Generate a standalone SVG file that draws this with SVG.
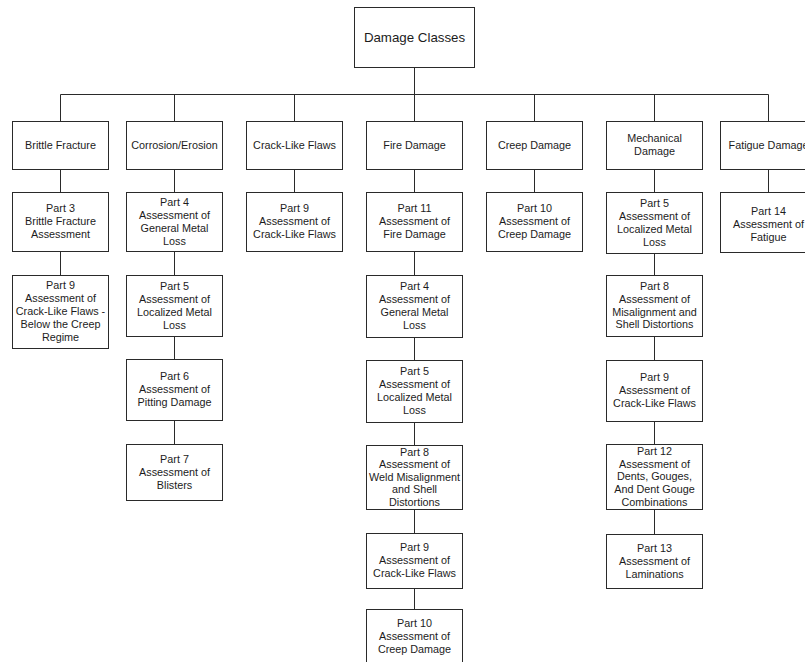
<svg xmlns="http://www.w3.org/2000/svg" width="805" height="662" viewBox="0 0 805 662">
<style>
rect{fill:#fff;stroke:#2a2a2a;stroke-width:1}
text{font-family:"Liberation Sans",Arial,sans-serif;font-size:10.8px;fill:#1c1c1c;text-anchor:middle}
.root{font-size:13.3px}
.conn{fill:none;stroke:#2a2a2a;stroke-width:1}
</style>
<rect x="0" y="0" width="805" height="662" style="fill:#fff;stroke:none"/>
<g id="connectors" class="conn">
<path d="M414.5 67 V94.5 M60.5 94.5 H768.5 M60.5 94.5 V121 M174.5 94.5 V121 M294.5 94.5 V121 M414.5 94.5 V121 M534.5 94.5 V121 M654.5 94.5 V121 M768.5 94.5 V121"/>
<path d="M60.5 169 V192 M60.5 251 V275"/>
<path d="M174.5 169 V192 M174.5 251 V275 M174.5 336 V359 M174.5 420 V444"/>
<path d="M294.5 169 V192"/>
<path d="M414.5 169 V192 M414.5 251 V275 M414.5 337 V360 M414.5 422 V445 M414.5 509 V533 M414.5 588 V609"/>
<path d="M534.5 169 V192"/>
<path d="M654.5 169 V192 M654.5 253 V275 M654.5 336 V360 M654.5 421 V444 M654.5 509 V534"/>
<path d="M768.5 169 V192"/>
</g>
<g id="root"><rect x="354.5" y="7.5" width="120" height="60"/><text class="root" x="414.5" y="41.6">Damage Classes</text></g>

<g id="cat-brittle"><rect x="12.5" y="121.5" width="96" height="48"/><text x="60.5" y="148.8">Brittle Fracture</text></g>
<g id="cat-corrosion"><rect x="126.5" y="121.5" width="96" height="48"/><text x="174.5" y="148.8">Corrosion/Erosion</text></g>
<g id="cat-crack"><rect x="246.5" y="121.5" width="96" height="48"/><text x="294.5" y="148.8">Crack-Like Flaws</text></g>
<g id="cat-fire"><rect x="366.5" y="121.5" width="96" height="48"/><text x="414.5" y="148.8">Fire Damage</text></g>
<g id="cat-creep"><rect x="486.5" y="121.5" width="96" height="48"/><text x="534.5" y="148.8">Creep Damage</text></g>
<g id="cat-mech"><rect x="606.5" y="121.5" width="96" height="48"/><text x="654.5" y="142.3">Mechanical</text><text x="654.5" y="155.3">Damage</text></g>
<g id="cat-fatigue"><rect x="720.5" y="121.5" width="96" height="48"/><text x="768.5" y="148.8">Fatigue Damage</text></g>

<g id="brittle-p3"><rect x="12.5" y="192.5" width="96" height="59"/><text x="60.5" y="212.3">Part 3</text><text x="60.5" y="225.3">Brittle Fracture</text><text x="60.5" y="238.3">Assessment</text></g>
<g id="brittle-p9"><rect x="12.5" y="275.5" width="96" height="73"/><text x="60.5" y="289.3">Part 9</text><text x="60.5" y="302.3">Assessment of</text><text x="60.5" y="315.3">Crack-Like Flaws -</text><text x="60.5" y="328.3">Below the Creep</text><text x="60.5" y="341.3">Regime</text></g>

<g id="corr-p4"><rect x="126.5" y="192.5" width="96" height="59"/><text x="174.5" y="205.8">Part 4</text><text x="174.5" y="218.8">Assessment of</text><text x="174.5" y="231.8">General Metal</text><text x="174.5" y="244.8">Loss</text></g>
<g id="corr-p5"><rect x="126.5" y="275.5" width="96" height="61"/><text x="174.5" y="289.8">Part 5</text><text x="174.5" y="302.8">Assessment of</text><text x="174.5" y="315.8">Localized Metal</text><text x="174.5" y="328.8">Loss</text></g>
<g id="corr-p6"><rect x="126.5" y="359.5" width="96" height="61"/><text x="174.5" y="380.3">Part 6</text><text x="174.5" y="393.3">Assessment of</text><text x="174.5" y="406.3">Pitting Damage</text></g>
<g id="corr-p7"><rect x="126.5" y="444.5" width="96" height="56"/><text x="174.5" y="462.8">Part 7</text><text x="174.5" y="475.8">Assessment of</text><text x="174.5" y="488.8">Blisters</text></g>

<g id="crack-p9"><rect x="246.5" y="192.5" width="96" height="59"/><text x="294.5" y="212.3">Part 9</text><text x="294.5" y="225.3">Assessment of</text><text x="294.5" y="238.3">Crack-Like Flaws</text></g>

<g id="fire-p11"><rect x="366.5" y="192.5" width="96" height="59"/><text x="414.5" y="212.3">Part 11</text><text x="414.5" y="225.3">Assessment of</text><text x="414.5" y="238.3">Fire Damage</text></g>
<g id="fire-p4"><rect x="366.5" y="275.5" width="96" height="62"/><text x="414.5" y="290.3">Part 4</text><text x="414.5" y="303.3">Assessment of</text><text x="414.5" y="316.3">General Metal</text><text x="414.5" y="329.3">Loss</text></g>
<g id="fire-p5"><rect x="366.5" y="360.5" width="96" height="62"/><text x="414.5" y="375.3">Part 5</text><text x="414.5" y="388.3">Assessment of</text><text x="414.5" y="401.3">Localized Metal</text><text x="414.5" y="414.3">Loss</text></g>
<g id="fire-p8"><rect x="366.5" y="445.5" width="96" height="64"/><text x="414.5" y="455.8">Part 8</text><text x="414.5" y="467.8">Assessment of</text><text x="414.5" y="480.8">Weld Misalignment</text><text x="414.5" y="492.8">and Shell</text><text x="414.5" y="505.8">Distortions</text></g>
<g id="fire-p9"><rect x="366.5" y="533.5" width="96" height="55"/><text x="414.5" y="551.3">Part 9</text><text x="414.5" y="564.3">Assessment of</text><text x="414.5" y="577.3">Crack-Like Flaws</text></g>
<g id="fire-p10"><rect x="366.5" y="609.5" width="96" height="64"/><text x="414.5" y="626.8">Part 10</text><text x="414.5" y="639.8">Assessment of</text><text x="414.5" y="652.8">Creep Damage</text></g>

<g id="creep-p10"><rect x="486.5" y="192.5" width="96" height="59"/><text x="534.5" y="212.3">Part 10</text><text x="534.5" y="225.3">Assessment of</text><text x="534.5" y="238.3">Creep Damage</text></g>

<g id="mech-p5"><rect x="606.5" y="192.5" width="96" height="61"/><text x="654.5" y="206.8">Part 5</text><text x="654.5" y="219.8">Assessment of</text><text x="654.5" y="232.8">Localized Metal</text><text x="654.5" y="245.8">Loss</text></g>
<g id="mech-p8"><rect x="606.5" y="275.5" width="96" height="61"/><text x="654.5" y="289.8">Part 8</text><text x="654.5" y="302.8">Assessment of</text><text x="654.5" y="315.6">Misalignment and</text><text x="654.5" y="328">Shell Distortions</text></g>
<g id="mech-p9"><rect x="606.5" y="360.5" width="96" height="61"/><text x="654.5" y="381.3">Part 9</text><text x="654.5" y="394.3">Assessment of</text><text x="654.5" y="407.3">Crack-Like Flaws</text></g>
<g id="mech-p12"><rect x="606.5" y="444.5" width="96" height="65"/><text x="654.5" y="454.8">Part 12</text><text x="654.5" y="467.8">Assessment of</text><text x="654.5" y="479.8">Dents, Gouges,</text><text x="654.5" y="492.8">And Dent Gouge</text><text x="654.5" y="505.8">Combinations</text></g>
<g id="mech-p13"><rect x="606.5" y="534.5" width="96" height="54"/><text x="654.5" y="551.8">Part 13</text><text x="654.5" y="564.8">Assessment of</text><text x="654.5" y="577.8">Laminations</text></g>

<g id="fatigue-p14"><rect x="720.5" y="192.5" width="96" height="60"/><text x="768.5" y="214.8">Part 14</text><text x="768.5" y="227.8">Assessment of</text><text x="768.5" y="240.8">Fatigue</text></g>
</svg>
